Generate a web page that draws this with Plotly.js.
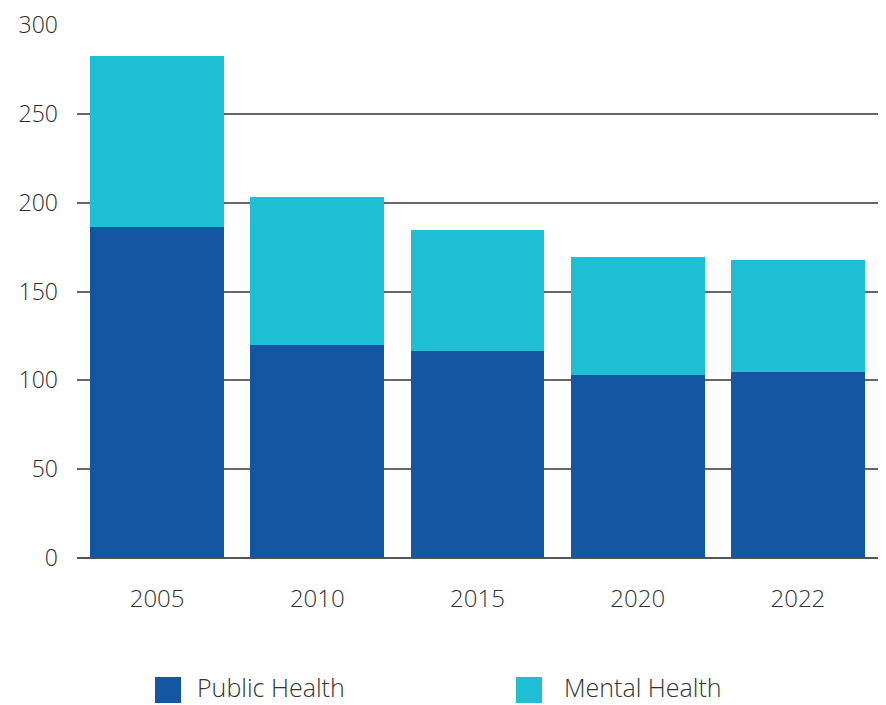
<!DOCTYPE html>
<html>
<head>
<meta charset="utf-8">
<script src="https://cdn.plot.ly/plotly-3.0.1.min.js"></script>
<style>html,body{margin:0;padding:0;background:#fff;}#chart{width:886px;height:705px;}</style>
</head>
<body>
<div id="chart"></div>
<script>
const years = ["2005", "2010", "2015", "2020", "2022"];
const publicHealth = [186.4, 119.8, 116.4, 103.0, 104.6];
const mentalHealth = [96.3, 83.4, 68.1, 66.4, 63.1];
const seriesNames = ["Public Health", "Mental Health"];
const seriesColors = ["#1456a2", "#1ebfd5"];
const yTicks = [0, 50, 100, 150, 200, 250, 300];

const fontFam = "'Open Sans', 'Noto Sans', sans-serif";

const traces = [
  {type: "bar", x: years, y: publicHealth, name: seriesNames[0],
   marker: {color: seriesColors[0], line: {width: 0}}, showlegend: false, hoverinfo: "x+y+name"},
  {type: "bar", x: years, y: mentalHealth, name: seriesNames[1],
   marker: {color: seriesColors[1], line: {width: 0}}, showlegend: false, hoverinfo: "x+y+name"}
];

// legend (squares + labels) placed below the plot
const W = 886, H = 705, L = 77, R = 8, T = 25, B = 147;
const pw = W - L - R, ph = H - T - B;
const px = v => (v - L) / pw;
const py = v => (H - B - v) / ph;
const legendX = [155, 516];
const legendTextX = [196, 563];
const shapes = [], annotations = [];
seriesNames.forEach((n, i) => {
  shapes.push({type: "rect", xref: "paper", yref: "paper",
    x0: px(legendX[i]), x1: px(legendX[i] + 26), y0: py(703), y1: py(677),
    fillcolor: seriesColors[i], line: {width: 0}});
  annotations.push({xref: "paper", yref: "paper", x: px(legendTextX[i]), y: py(687),
    xanchor: "left", yanchor: "middle", showarrow: false, text: n, borderpad: 0,
    font: {family: fontFam, size: 25, color: "#333", weight: 300}});
});

const layout = {
  width: W, height: H,
  margin: {l: L, r: R, t: T, b: B, pad: 0},
  barmode: "stack",
  bargap: 0.165,
  paper_bgcolor: "#fff", plot_bgcolor: "#fff",
  showlegend: false,
  font: {family: fontFam, color: "#333", weight: 300},
  xaxis: {
    type: "category", showgrid: false, zeroline: false, showline: false,
    ticks: "", ticklabelstandoff: 24,
    tickfont: {family: fontFam, size: 24, color: "#333", weight: 300}
  },
  yaxis: {
    range: [0, 300], tickvals: yTicks, ticktext: yTicks.map(String),
    showgrid: true, gridcolor: "#666", gridwidth: 2,
    zeroline: true, zerolinecolor: "#555", zerolinewidth: 2,
    showline: false, ticks: "", ticklabelstandoff: 18,
    tickfont: {family: fontFam, size: 23, color: "#2a2a2a", weight: 300}
  },
  shapes: shapes,
  annotations: annotations
};

Plotly.newPlot("chart", traces, layout, {displayModeBar: false, staticPlot: true});
</script>
</body>
</html>
